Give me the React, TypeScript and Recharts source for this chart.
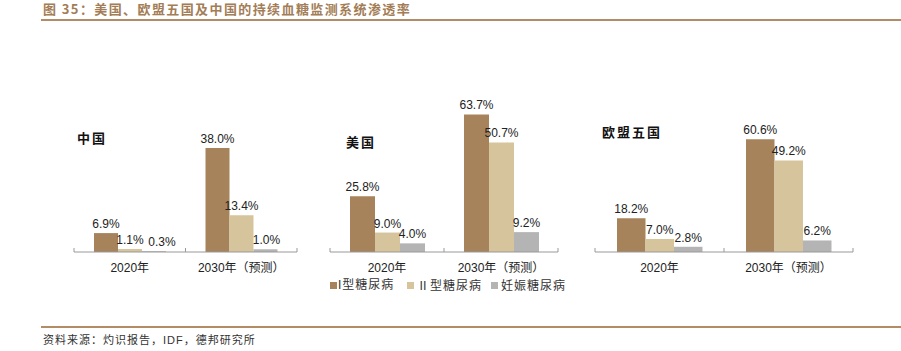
import { BarChart, Bar, XAxis, YAxis, LabelList } from "recharts";

const categories = ["2020年", "2030年（预测）"];
const seriesNames = ["I型糖尿病", "Ⅱ型糖尿病", "妊娠糖尿病"];

const chinaType1 = [6.9, 38.0];
const chinaType2 = [1.1, 13.4];
const chinaGest = [0.3, 1.0];

const usType1 = [25.8, 63.7];
const usType2 = [9.0, 50.7];
const usGest = [4.0, 9.2];

const euType1 = [18.2, 60.6];
const euType2 = [7.0, 49.2];
const euGest = [2.8, 6.2];

const COLORS = ["#a6835b", "#d6c59c", "#b4b4b4"];
const NUM_FONT = "'Liberation Sans', Arial, 'Noto Sans CJK SC', sans-serif";
const CJK_FONT = "'Noto Sans CJK SC', sans-serif";

// all panels share the same svg box vertically
const SVG_TOP = 60;
const SVG_H = 240;
const AXIS_Y = 252;

interface PanelProps {
  name: string;
  type1: number[];
  type2: number[];
  gest: number[];
  plotLeft: number;
  plotRight: number;
  plotTop: number;
  yMax: number;
  barSize: number;
  nameX: number;
  nameY: number;
  gestLabelDx?: number[];
}

function Panel({ name, type1, type2, gest, plotLeft, plotRight, plotTop, yMax, barSize, nameX, nameY, gestLabelDx }: PanelProps) {
  const data = categories.map((cat, i) => ({
    cat,
    t1: type1[i],
    t2: type2[i],
    g: gest[i],
  }));
  const pad = 10;
  const width = plotRight - plotLeft + pad * 2;
  const halfBand = (plotRight - plotLeft) / 4;
  const axisY = AXIS_Y - SVG_TOP;

  const renderTick = (props: any) => {
    const { x, index, payload } = props;
    return (
      <g>
        <line x1={x - halfBand} x2={x - halfBand} y1={axisY} y2={axisY - 4} stroke="#999" />
        {index === categories.length - 1 && (
          <line x1={x + halfBand} x2={x + halfBand} y1={axisY} y2={axisY - 4} stroke="#999" />
        )}
        <text x={x} y={axisY + 20} textAnchor="middle" fontSize={12} fill="#222" fontFamily={NUM_FONT}>
          {payload.value}
        </text>
      </g>
    );
  };

  // label above each bar; the gray series can be nudged sideways where labels collide
  const makeLabel = (key: string) => (p: any) => {
    const dx = key === "g" && gestLabelDx ? gestLabelDx[p.index] || 0 : 0;
    return (
      <text
        x={Number(p.x) + Number(p.width) / 2 + dx}
        y={Number(p.y) - 5}
        textAnchor="middle"
        fontSize={12}
        fill="#222"
        fontFamily={NUM_FONT}
      >
        {`${Number(p.value).toFixed(1)}%`}
      </text>
    );
  };

  return (
    <>
      <div
        style={{
          position: "absolute",
          left: nameX,
          top: nameY,
          fontFamily: CJK_FONT,
          fontWeight: 700,
          fontSize: 13,
          letterSpacing: 2,
          color: "#111",
          lineHeight: "16px",
        }}
      >
        {name}
      </div>
      <div style={{ position: "absolute", left: plotLeft - pad, top: SVG_TOP }}>
        <BarChart
          width={width}
          height={SVG_H}
          data={data}
          barGap={0}
          margin={{ left: pad, right: pad, top: plotTop - SVG_TOP, bottom: SVG_H - axisY - 30 }}
        >
          <XAxis
            dataKey="cat"
            axisLine={{ stroke: "#999" }}
            tickLine={false}
            interval={0}
            tick={renderTick}
          />
          <YAxis hide domain={[0, yMax]} />
          {["t1", "t2", "g"].map((key, i) => (
            <Bar key={key} dataKey={key} fill={COLORS[i]} barSize={barSize} isAnimationActive={false}>
              <LabelList dataKey={key} content={makeLabel(key)} />
            </Bar>
          ))}
        </BarChart>
      </div>
    </>
  );
}

export default function App() {
  return (
    <div style={{ position: "absolute", left: 0, top: 0, width: 901, height: 351, background: "#fff", overflow: "hidden" }}>
      <div
        style={{
          position: "absolute",
          left: 43,
          top: 0,
          fontFamily: CJK_FONT,
          fontWeight: 700,
          fontSize: 13,
          letterSpacing: 1.4,
          color: "#a37d56",
          lineHeight: "17px",
          whiteSpace: "nowrap",
        }}
      >
        图 35：美国、欧盟五国及中国的持续血糖监测系统渗透率
      </div>
      <div style={{ position: "absolute", left: 41, top: 19, width: 860, height: 2, background: "#b38c65" }} />

      <Panel
        name="中国"
        type1={chinaType1}
        type2={chinaType2}
        gest={chinaGest}
        plotLeft={74}
        plotRight={297}
        plotTop={142.4}
        yMax={40}
        barSize={24}
        nameX={77}
        nameY={130}
        gestLabelDx={[8, 1]}
      />
      <Panel
        name="美国"
        type1={usType1}
        type2={usType2}
        gest={usGest}
        plotLeft={330}
        plotRight={558}
        plotTop={100.8}
        yMax={70}
        barSize={25}
        nameX={346}
        nameY={134}
      />
      <Panel
        name="欧盟五国"
        type1={euType1}
        type2={euType2}
        gest={euGest}
        plotLeft={595}
        plotRight={853}
        plotTop={121.8}
        yMax={70}
        barSize={28.5}
        nameX={602}
        nameY={124}
      />

      {/* legend under the US panel */}
      {seriesNames.map((s, i) => (
        <div
          key={s}
          style={{
            position: "absolute",
            left: [330, 407, 491][i],
            top: 277,
            display: "flex",
            alignItems: "center",
            fontFamily: i === 0 ? NUM_FONT : CJK_FONT,
            fontSize: 12,
            color: "#333",
            lineHeight: "16px",
            whiteSpace: "nowrap",
          }}
        >
          <span style={{ display: "inline-block", width: 7, height: 7, background: COLORS[i], marginRight: i === 0 ? 1 : 3 }} />
          <span style={{ letterSpacing: 1 }}>{s}</span>
        </div>
      ))}

      <div style={{ position: "absolute", left: 41, top: 326, width: 860, height: 2, background: "#b38c65" }} />
      <div
        style={{
          position: "absolute",
          left: 43,
          top: 332,
          fontFamily: NUM_FONT,
          fontSize: 11,
          color: "#333",
          lineHeight: "16px",
          letterSpacing: 1,
          whiteSpace: "nowrap",
        }}
      >
        资料来源：灼识报告，IDF，德邦研究所
      </div>
    </div>
  );
}
